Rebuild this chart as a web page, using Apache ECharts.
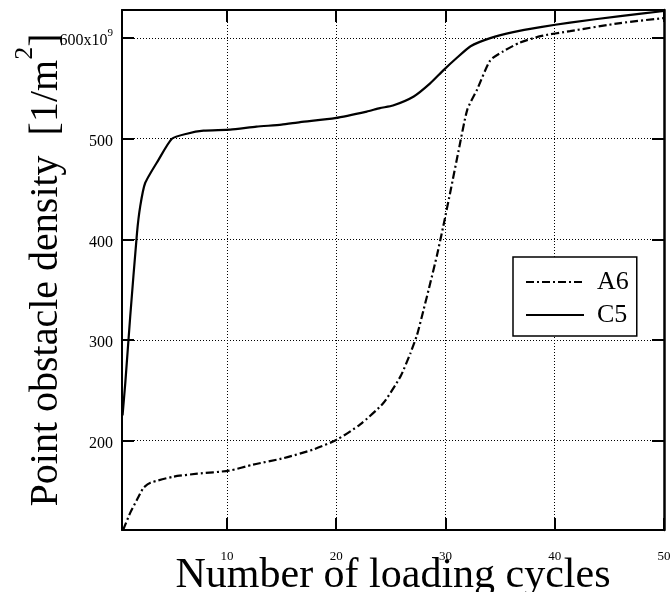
<!DOCTYPE html>
<html>
<head>
<meta charset="utf-8">
<script src="https://cdn.jsdelivr.net/npm/echarts@6/dist/echarts.min.js"></script>
<style>
  html, body { margin: 0; padding: 0; background: #fff; }
  #chart { width: 672px; height: 592px; }
</style>
</head>
<body>
<div id="chart"></div>
<script>
// Point obstacle density (units of 1e9 per m^2) versus number of loading cycles
const cyclesA6 = [0.5, 1.15, 1.77, 2.37, 3.0, 5.1, 7.3, 10.2, 12.4, 15.2, 17.9, 20.1, 22.2, 24.3, 25.9,
  26.8, 27.4, 28.0, 28.6, 29.2, 29.8, 30.5, 31.2, 32.0, 32.9, 34.1, 35.3, 36.8, 38.7, 41.4, 46.0, 50];
const densityA6 = [111, 128, 141, 153, 158, 164, 167, 170, 176, 182.5, 191, 201, 216, 237, 264,
  287, 305, 330, 356, 383, 413, 450, 488, 529, 549, 578, 587, 595.5, 602, 607, 615, 620];

const cyclesC5 = [0.45, 0.7, 1.15, 1.77, 2.07, 2.52, 3.74, 4.97, 6.34, 7.86, 10.3, 12.7, 15.0, 16.7,
  19.9, 22.8, 24.0, 25.2, 27.1, 28.6, 29.8, 31.0, 32.3, 34.1, 36.2, 38.7, 41.4, 46.0, 50];
const densityC5 = [225, 257, 323, 406, 433, 456, 479, 500, 505, 508, 509, 512, 514, 516.5,
  520.5, 527, 530.5, 533, 542, 555, 568, 580, 592, 600, 606, 611, 615.5, 622, 627];

const xTicks = [10, 20, 30, 40, 50];
const yTicks = [200, 300, 400, 500, 600];
const seriesNames = ['A6', 'C5'];

const SERIF = '"Liberation Serif", "DejaVu Serif", serif';

const pairs = (xs, ys) => xs.map((x, i) => [x, ys[i]]);

const chart = echarts.init(document.getElementById('chart'), null, { renderer: 'canvas' });

const frameLine = { show: true, lineStyle: { color: '#000', width: 2 } };
const innerTick = { show: true, inside: true, length: 12, lineStyle: { color: '#000', width: 2 } };
const dottedGrid = { show: true, lineStyle: { color: '#000', width: 1, type: [1, 2] } };

chart.setOption({
  animation: false,
  backgroundColor: '#fff',
  grid: { left: 122, right: 8, top: 10, bottom: 62, containLabel: false, outerBoundsMode: 'none' },
  legend: {
    orient: 'vertical',
    left: 513,
    top: 257,
    data: seriesNames,
    itemWidth: 58,
    itemHeight: 14,
    itemGap: 7,
    padding: [12, 8, 8, 12],
    borderColor: '#000',
    borderWidth: 1.5,
    backgroundColor: '#fff',
    itemStyle: { opacity: 0 },
    textStyle: { fontFamily: SERIF, fontSize: 26, color: '#000', padding: [0, 0, 0, 8] }
  },
  xAxis: [{
    type: 'value',
    min: 0.4,
    max: 50,
    axisLine: frameLine,
    axisTick: Object.assign({ customValues: xTicks }, innerTick),
    splitLine: dottedGrid,
    axisLabel: {
      customValues: xTicks,
      margin: 20,
      fontFamily: SERIF,
      fontSize: 13,
      color: '#000'
    },
    name: 'Number of loading cycles',
    nameLocation: 'middle',
    nameGap: 25,
    nameMoveOverlap: false,
    nameTextStyle: { fontFamily: SERIF, fontSize: 42, color: '#000' }
  }, {
    type: 'value',
    position: 'top',
    min: 0.4,
    max: 50,
    axisLine: frameLine,
    axisTick: Object.assign({ customValues: xTicks }, innerTick),
    axisLabel: { show: false },
    splitLine: { show: false }
  }],
  yAxis: [{
    type: 'value',
    min: 111,
    max: 628,
    axisLine: frameLine,
    axisTick: Object.assign({ customValues: yTicks }, innerTick),
    splitLine: dottedGrid,
    axisLabel: {
      customValues: yTicks,
      margin: 9,
      fontFamily: SERIF,
      fontSize: 16,
      color: '#000',
      formatter: v => (v === 600 ? '{n|600x10}{sup|9}' : '{n|' + v + '}'),
      rich: {
        n: { fontFamily: SERIF, fontSize: 16, color: '#000', lineHeight: 22, verticalAlign: 'bottom' },
        sup: { fontFamily: SERIF, fontSize: 11, color: '#000', lineHeight: 22, verticalAlign: 'top' }
      }
    },
    name: '{t|Point obstacle density  [1/m}{sup|2}{t|]}',
    nameLocation: 'middle',
    nameRotate: 90,
    nameGap: 56,
    nameMoveOverlap: false,
    nameTextStyle: {
      fontFamily: SERIF,
      fontSize: 40,
      color: '#000',
      rich: {
        t: { fontFamily: SERIF, fontSize: 40, color: '#000', lineHeight: 54, verticalAlign: 'bottom' },
        sup: { fontFamily: SERIF, fontSize: 26, color: '#000', lineHeight: 54, verticalAlign: 'top' }
      }
    }
  }, {
    type: 'value',
    position: 'right',
    min: 111,
    max: 628,
    axisLine: { show: true, lineStyle: { color: '#000', width: 2.5 } },
    axisTick: Object.assign({ customValues: yTicks }, innerTick),
    axisLabel: { show: false },
    splitLine: { show: false }
  }],
  series: [{
    name: seriesNames[0],
    type: 'line',
    data: pairs(cyclesA6, densityA6),
    symbol: 'none',
    smooth: 0.2,
    lineStyle: { color: '#000', width: 2.2, type: [8, 3, 2, 3] },
    itemStyle: { color: '#000' }
  }, {
    name: seriesNames[1],
    type: 'line',
    data: pairs(cyclesC5, densityC5),
    symbol: 'none',
    smooth: 0.2,
    lineStyle: { color: '#000', width: 2.2, type: 'solid' },
    itemStyle: { color: '#000' }
  }]
});
</script>
</body>
</html>
